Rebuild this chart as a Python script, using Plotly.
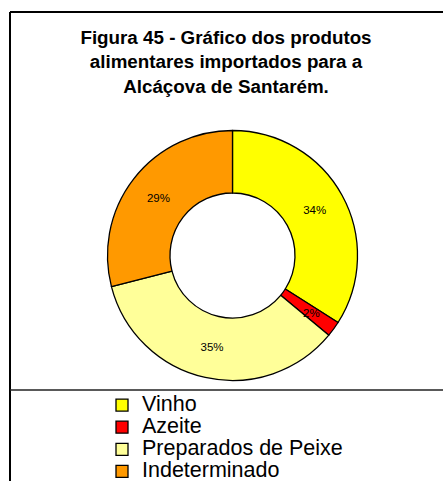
import math
import plotly.graph_objects as go

categories = ["Vinho", "Azeite", "Preparados de Peixe", "Indeterminado"]
values = [34, 2, 35, 29]
colors = ["#FFFF00", "#FF0000", "#FFFF99", "#FF9900"]
title_lines = ["Figura 45 - Gráfico dos produtos", "alimentares importados para a", "Alcáçova de Santarém."]

W, H = 443, 481
cx, cy, r = 232.5, 255.5, 125
small = 1  # index of the small slice whose label is placed as annotation

total = sum(values)
templates = ["" if i == small else "%{percent}" for i in range(len(values))]

fig = go.Figure(go.Pie(
    labels=[f'<span style="font-size:21.5px">{c}</span>' for c in categories],
    values=values,
    marker=dict(colors=colors, line=dict(color="black", width=1.3)),
    hole=0.5,
    sort=False,
    direction="clockwise",
    rotation=0,
    texttemplate=templates,
    textposition="inside",
    insidetextorientation="horizontal",
    textfont=dict(family="Arial, Liberation Sans", size=11.5, color="black"),
    domain=dict(x=[(cx - r) / W, (cx + r) / W], y=[(H - cy - r) / H, (H - cy + r) / H]),
    hoverinfo="label+percent",
))

# label of the small slice, placed at its mid-angle computed from the data
start = sum(values[:small]) / total
mid = (start + values[small] / total / 2) * 2 * math.pi
R = 0.78 * r
ax = cx + R * math.sin(mid)
ay = cy - R * math.cos(mid)
annotations = [dict(x=ax / W, y=1 - ay / H, xref="paper", yref="paper", showarrow=False,
                    xanchor="center", yanchor="middle",
                    text=f"{round(values[small] / total * 100)}%",
                    font=dict(family="Arial, Liberation Sans", size=11.5, color="black"))]

shapes = [
    dict(type="line", xref="paper", yref="paper", x0=10 / W, x1=10 / W, y0=0, y1=1 - 12 / H,
         line=dict(color="black", width=2)),
    dict(type="line", xref="paper", yref="paper", x0=10 / W, x1=1, y0=1 - 12 / H, y1=1 - 12 / H,
         line=dict(color="black", width=2)),
    dict(type="line", xref="paper", yref="paper", x0=10 / W, x1=1, y0=1 - 390 / H, y1=1 - 390 / H,
         line=dict(color="#222222", width=1.3)),
]

fig.update_layout(
    width=W, height=H,
    margin=dict(l=0, r=0, t=0, b=0, autoexpand=False),
    paper_bgcolor="white",
    plot_bgcolor="white",
    title=dict(text="<br>".join(title_lines), x=226 / W, xanchor="center", xref="paper",
               y=1 - 44 / H, yanchor="top", yref="container",
               font=dict(family="Arial, Liberation Sans", size=18.8, color="black", weight="bold")),
    showlegend=True,
    legend=dict(x=102 / W, xanchor="left", y=1 - 389 / H, yanchor="top",
                font=dict(family="Arial, Liberation Sans", size=14.7, color="black"),
                bgcolor="rgba(0,0,0,0)", borderwidth=0, traceorder="normal"),
    uniformtext=dict(minsize=11.5, mode="show"),
    shapes=shapes,
    annotations=annotations,
)

fig.write_html("out.html", config={"displayModeBar": False},
               post_script="document.body.style.margin='0';document.body.style.overflow='hidden';")
